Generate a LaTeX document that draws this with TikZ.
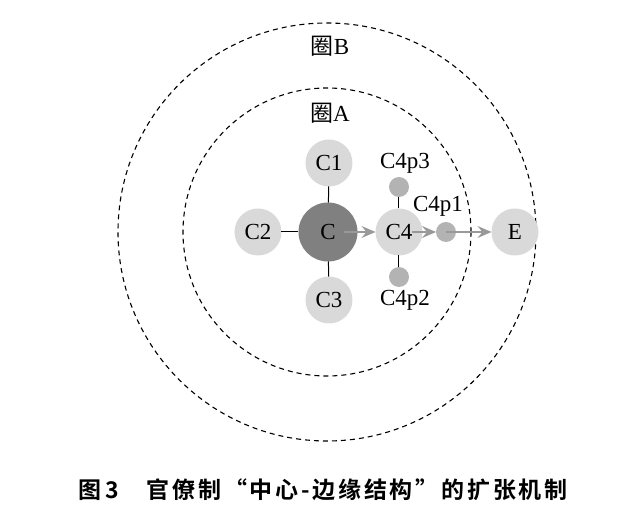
\documentclass[tikz,border=0pt]{standalone}
\usepackage{fontspec}
\setmainfont{Liberation Serif}
\newfontfamily\cjk{Noto Sans CJK SC}
\newfontfamily\capfont[LetterSpace=12]{Noto Sans CJK SC Bold}
\usepackage{tikz}
\usetikzlibrary{calc,arrows.meta}

\definecolor{coregray}{HTML}{808080}
\definecolor{cellgray}{HTML}{D9D9D9}
\definecolor{dotgray}{HTML}{B3B3B3}
\definecolor{flowgray}{HTML}{999999}

\tikzset{
  lbl/.style={font=\fontsize{23}{23}\selectfont},
  cell/.style={circle, fill=cellgray, minimum size=47pt, lbl},
  core/.style={circle, fill=coregray, minimum size=59pt, lbl},
  dot/.style={circle, fill=dotgray, minimum size=20pt},
  ring/.style={draw, dash pattern=on 5pt off 4pt, line width=1.1pt},
  link/.style={draw, line width=1pt},
  flow/.style={draw=flowgray, line width=1.6pt, -{Stealth[length=14pt,width=12pt,inset=5pt]}}
}

\begin{document}
\begin{tikzpicture}[x=1pt,y=1pt,inner sep=0pt,outer sep=0pt]
    \useasboundingbox (-327,-287) rectangle (314,232);

    % rings
    \draw[ring] (0,0) circle (209);
    \draw[ring] (0,0) circle (144);
    \node[lbl] (ring_b_cap) at (3,186) {{\cjk 圈}B};
    \node[lbl] (ring_a_cap) at (3,119) {{\cjk 圈}A};

    % centre and cells
    \node[core] (core) at (1,0) {C};
    \node[cell] (c1) at (2,69) {C1};
    \node[cell] (c2) at (-69,0) {C2};
    \node[cell] (c3) at (2,-68) {C3};
    \node[cell] (c4) at (72,0) {C4};
    \node[cell] (ext) at (188,0) {E};

    % C4 points
    \node[dot] (c4p1) at (119,0) {};
    \node[dot] (c4p2) at (72,-45) {};
    \node[dot] (c4p3) at (72,45) {};
    \node[lbl] (c4p1_cap) at (111,26) {C4p1};
    \node[lbl] (c4p2_cap) at (78,-68) {C4p2};
    \node[lbl] (c4p3_cap) at (78,69) {C4p3};

    % links
    \draw[link] (core) -- (c1);
    \draw[link] (core) -- (c2);
    \draw[link] (core) -- (c3);
    \draw[link] (c4) -- (c4p2);
    \draw[link] (c4) -- (c4p3);

    % expansion
    \draw[flow] ($(core.center)+(16,0)$) -- (c4.west);
    \draw[flow] ($(c4.center)+(13,0)$) -- (c4p1.west);
    \draw[flow] (c4p1.center) -- (ext.west);

    % caption
    \node (fig_cap) at (-4,-258)
    {\capfont\fontsize{23}{23}\selectfont 图\,3\hspace{28pt}官僚制“中心-边缘结构”的扩张机制};
\end{tikzpicture}
\end{document}
